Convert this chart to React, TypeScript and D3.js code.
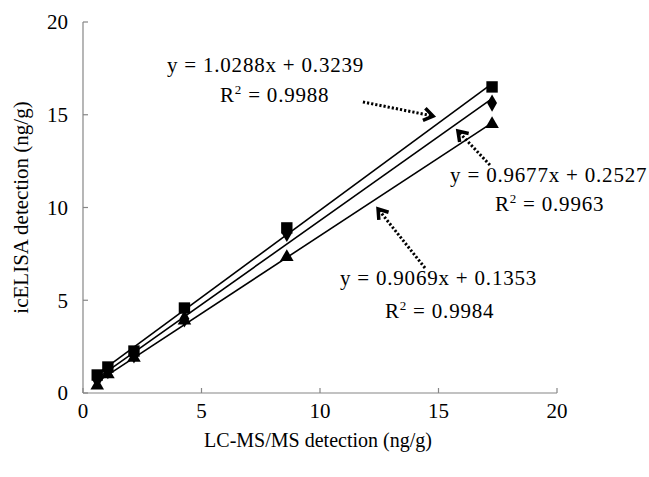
import React from "react";
import * as d3 from "d3";

const xValues = [0.6, 1.05, 2.15, 4.28, 8.6, 17.26];
const squareValues = [0.97, 1.4, 2.26, 4.58, 8.9, 16.5];
const diamondValues = [0.7, 1.2, 2.05, 4.0, 8.6, 15.63];
const triangleValues = [0.4, 1.0, 1.9, 3.9, 7.33, 14.5];
const xTicks = [0, 5, 10, 15, 20];
const yTicks = [0, 5, 10, 15, 20];
const eqTexts = ["y = 1.0288x + 0.3239", "y = 0.9677x + 0.2527", "y = 0.9069x + 0.1353"];
const r2Texts = ["0.9988", "0.9963", "0.9984"];
// annotation anchors in data units
const eqPos = [[3.54, 17.3], [15.49, 11.37], [10.84, 5.82]];
const r2Pos = [[5.78, 15.69], [17.38, 9.81], [12.74, 4.04]];
const arrowFrom = [[11.81, 15.69], [17.17, 12.29], [14.43, 6.74]];
const arrowTo = [[14.77, 14.93], [15.82, 14.12], [12.45, 9.92]];

const W = 649, H = 477;
const left = 83, right = 557, top = 22, bottom = 393;
const FONT = "'Liberation Serif', 'Times New Roman', serif";

function fit(xs: number[], ys: number[]) {
  const mx = d3.mean(xs)!, my = d3.mean(ys)!;
  let sxy = 0, sxx = 0;
  xs.forEach((x, i) => { sxy += (x - mx) * (ys[i] - my); sxx += (x - mx) ** 2; });
  const b = sxy / sxx;
  return { b, a: my - b * mx };
}

export default function App() {
  const x = d3.scaleLinear().domain([0, 20]).range([left, right]);
  const y = d3.scaleLinear().domain([0, 20]).range([bottom, top]);
  const series = [
    { vals: diamondValues, shape: d3.symbolDiamond, size: 85 },
    { vals: squareValues, shape: d3.symbolSquare, size: 130 },
    { vals: triangleValues, shape: d3.symbolTriangle, size: 80 },
  ];
  const x0 = d3.min(xValues)!, x1 = d3.max(xValues)!;
  const axisColor = "#868686";
  return (
    <svg width={W} height={H} style={{ position: "absolute", left: 0, top: 0, background: "#fff" }} fontFamily={FONT}>
      <rect width={W} height={H} fill="#fff" />
      {/* axes */}
      <line x1={left} x2={right} y1={bottom} y2={bottom} stroke={axisColor} strokeWidth={1.2} />
      <line x1={left} x2={left} y1={top} y2={bottom} stroke={axisColor} strokeWidth={1.2} />
      {xTicks.map((t) => (
        <g key={"xt" + t}>
          <line x1={x(t)} x2={x(t)} y1={bottom} y2={bottom - 5} stroke={axisColor} strokeWidth={1.2} />
          <text x={x(t)} y={bottom + 25} textAnchor="middle" fontSize={21}>{t}</text>
        </g>
      ))}
      {yTicks.map((t) => (
        <g key={"yt" + t}>
          <line x1={left} x2={left + 5} y1={y(t)} y2={y(t)} stroke={axisColor} strokeWidth={1.2} />
          <text x={left - 15} y={y(t)} dy="0.35em" textAnchor="end" fontSize={21}>{t}</text>
        </g>
      ))}
      <text x={(left + right) / 2 - 2} y={447} textAnchor="middle" fontSize={20}>LC-MS/MS detection (ng/g)</text>
      <text transform={`translate(28,${(top + bottom) / 2}) rotate(-90)`} textAnchor="middle" fontSize={21}>icELISA detection (ng/g)</text>
      {/* trend lines */}
      {series.map((s, i) => {
        const f = fit(xValues, s.vals);
        return (
          <line key={"tl" + i} x1={x(x0)} y1={y(f.a + f.b * x0)} x2={x(x1)} y2={y(f.a + f.b * x1)} stroke="#000" strokeWidth={1.6} />
        );
      })}
      {/* markers */}
      {series.map((s, i) => (
        <g key={"m" + i}>
          {xValues.map((xv, j) => (
            <path key={j} d={d3.symbol().type(s.shape).size(s.size)()!} transform={`translate(${x(xv)},${y(s.vals[j])})`} fill="#000" />
          ))}
        </g>
      ))}
      {/* annotations */}
      {eqTexts.map((t, i) => (
        <g key={"eq" + i} fontSize={21} letterSpacing={0.8}>
          <text x={x(eqPos[i][0])} y={y(eqPos[i][1])}>{t}</text>
          <text x={x(r2Pos[i][0])} y={y(r2Pos[i][1])}>
            R<tspan fontSize={13} dy={-8}>2</tspan><tspan dy={8}> = {r2Texts[i]}</tspan>
          </text>
        </g>
      ))}
      {arrowFrom.map((p, i) => {
        const sx = x(p[0]), sy = y(p[1]);
        const ex = x(arrowTo[i][0]), ey = y(arrowTo[i][1]);
        const ang = Math.atan2(ey - sy, ex - sx);
        const L = 11, spread = 0.6;
        const h1 = [ex - L * Math.cos(ang - spread), ey - L * Math.sin(ang - spread)];
        const h2 = [ex - L * Math.cos(ang + spread), ey - L * Math.sin(ang + spread)];
        return (
          <g key={"ar" + i}>
            <line x1={sx} y1={sy} x2={ex - 3 * Math.cos(ang)} y2={ey - 3 * Math.sin(ang)} stroke="#000" strokeWidth={3} strokeDasharray="2.2,2" />
            <polyline points={`${h1[0]},${h1[1]} ${ex},${ey} ${h2[0]},${h2[1]}`} fill="none" stroke="#000" strokeWidth={3.5} strokeLinejoin="miter" />
          </g>
        );
      })}
    </svg>
  );
}
